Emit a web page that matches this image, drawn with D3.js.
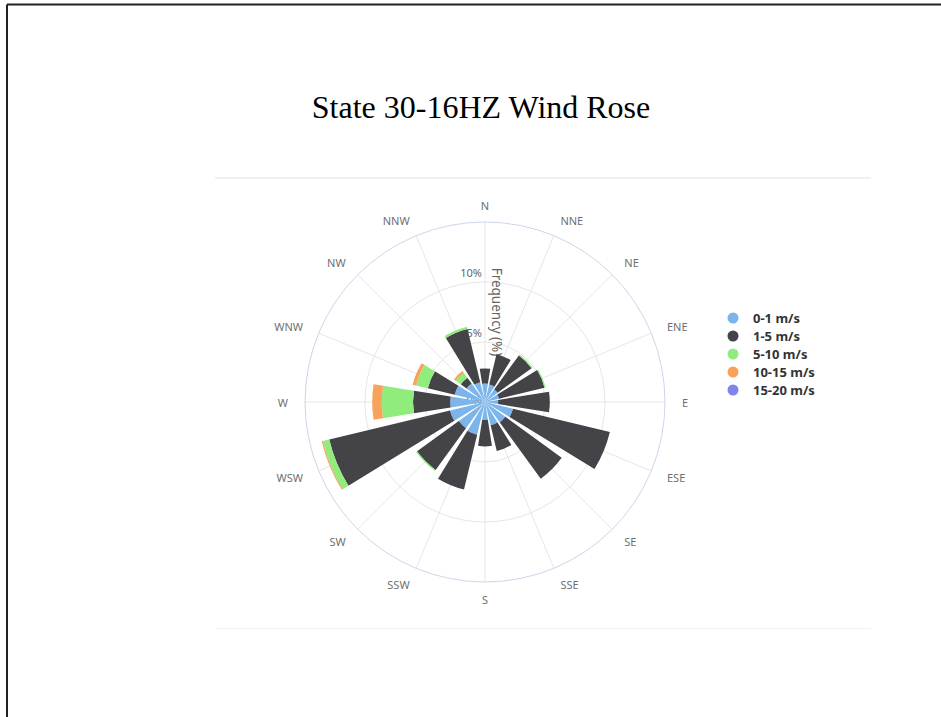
<!DOCTYPE html>
<html>
<head>
<meta charset="utf-8">
<script src="https://cdn.jsdelivr.net/npm/d3@7"></script>
<style>
body { margin:0; background:#fff; }
svg { display:block; }
.dir { font-family:"Noto Sans", sans-serif; font-size:11px; fill:#707070; }
.tick { font-family:"Noto Sans", sans-serif; font-size:11px; fill:#666; }
.legend text { font-family:"Noto Sans", sans-serif; font-size:13px; font-weight:bold; fill:#333; }
</style>
</head>
<body>
<svg id="rose"></svg>
<script>
// directions, clockwise from north
var directions = ["N","NNE","NE","ENE","E","ESE","SE","SSE","S","SSW","SW","WSW","W","WNW","NW","NNW"]
// frequency (%) of each speed band per direction
var speed0to1   = [1.55,1.5,1.3,1.2,1.1,2.4,2.1,2.0,1.5,2.8,2.7,3.0,2.9,2.6,1.9,1.7]
var speed1to5   = [1.25,2.6,3.5,3.9,4.3,8.3,5.8,2.2,2.2,4.7,4.3,10.35,3.1,2.3,0.6,4.55]
var speed5to10  = [0,0,0.1,0.1,0,0,0,0,0,0,0.1,0.55,2.6,1.0,0.5,0.2]
var speed10to15 = [0,0,0,0,0,0,0,0,0,0,0,0.1,0.8,0.3,0.2,0]
var speed15to20 = [0,0,0,0,0,0,0,0,0,0,0,0,0,0,0,0]
var seriesNames = ["0-1 m/s","1-5 m/s","5-10 m/s","10-15 m/s","15-20 m/s"]
var seriesColors = ["#7cb5ec","#434348","#90ed7d","#f7a35c","#8085e9"]
var radialTicks = [0,5,10]

var screen = {width:941, height:717}
var center = {x:485, y:402}
var outerR = 180

var svg = d3.select("#rose")
    .attr("width", screen.width)
    .attr("height", screen.height)

// frame lines
svg.append("line").attr("x1",7).attr("y1",4.5).attr("x2",941).attr("y2",4.5)
    .attr("stroke","#222").attr("stroke-width",2)
svg.append("line").attr("x1",7).attr("y1",4.5).attr("x2",7).attr("y2",717)
    .attr("stroke","#222").attr("stroke-width",2)

// panel borders
svg.append("line").attr("x1",215).attr("y1",178).attr("x2",871).attr("y2",178)
    .attr("stroke","#eef0f2").attr("stroke-width",2)
svg.append("line").attr("x1",215).attr("y1",628.5).attr("x2",871).attr("y2",628.5)
    .attr("stroke","#f2f2f2").attr("stroke-width",1)

svg.append("text")
    .text("State 30-16HZ Wind Rose")
    .attr("x", 481).attr("y", 118)
    .attr("text-anchor","middle")
    .style("font-family","'Liberation Serif', 'Times New Roman', serif")
    .style("font-size","32px")
    .attr("fill","#000")

var rScale = d3.scaleLinear().domain([0,15]).range([0,outerR])
var step = 2*Math.PI/directions.length
var aScale = d3.scaleBand()
    .domain(directions)
    .range([-step/2, 2*Math.PI - step/2])
    .paddingInner(0.2)
    .paddingOuter(0.1)

var g = svg.append("g")
    .attr("transform","translate("+center.x+","+center.y+")")

// grid
directions.forEach(function(d,i){
    var a = aScale(d) + aScale.bandwidth()/2
    g.append("line")
        .attr("x1",0).attr("y1",0)
        .attr("x2",outerR*Math.sin(a)).attr("y2",-outerR*Math.cos(a))
        .attr("stroke","#e6e6e6").attr("stroke-width",1)
})
radialTicks.forEach(function(t){
    if (t==0) return
    g.append("circle").attr("r",rScale(t))
        .attr("fill","none").attr("stroke","#e6e6e6").attr("stroke-width",1)
})
g.append("circle").attr("r",outerR)
    .attr("fill","none").attr("stroke","#ccd6eb").attr("stroke-width",1)

// radial labels
radialTicks.forEach(function(t){
    g.append("text").classed("tick",true)
        .text(t+"%")
        .attr("x",-3).attr("y",-rScale(t)+ (t==0 ? -3 : -10))
        .attr("text-anchor","end")
        .attr("dominant-baseline","central")
})
g.append("text").classed("tick",true)
    .text("Frequency (%)")
    .attr("transform","translate(2,"+(-rScale(7.5))+") rotate(90)")
    .attr("text-anchor","middle")
    .attr("dy","-0.35em")
    .style("font-size","13.5px")

// stacked bars
var rows = directions.map(function(d,i){
    return {dir:d, s0:speed0to1[i], s1:speed1to5[i], s2:speed5to10[i], s3:speed10to15[i], s4:speed15to20[i]}
})
var keys = ["s0","s1","s2","s3","s4"]
var stacked = d3.stack().keys(keys)(rows)

var arc = d3.arc()
    .innerRadius(function(d){return rScale(d[0])})
    .outerRadius(function(d){return rScale(d[1])})
    .startAngle(function(d){return aScale(d.data.dir)})
    .endAngle(function(d){return aScale(d.data.dir)+aScale.bandwidth()})

g.selectAll("g.layer")
    .data(stacked)
    .enter()
    .append("g")
    .classed("layer",true)
    .attr("fill",function(s,i){return seriesColors[i]})
    .selectAll("path")
    .data(function(s){return s.filter(function(d){return d[1]-d[0]>0})})
    .enter()
    .append("path")
    .attr("d",arc)

// direction labels
directions.forEach(function(d){
    var a = aScale(d) + aScale.bandwidth()/2
    var R = 197
    var x = R*Math.sin(a), y = -R*Math.cos(a)
    var s = Math.sin(a)
    g.append("text").classed("dir",true)
        .text(d)
        .attr("x",x).attr("y",y)
        .attr("text-anchor", Math.abs(s)<0.01 ? "middle" : (s>0 ? "start" : "end"))
        .attr("dominant-baseline","central")
})

// legend
var legend = svg.append("g").classed("legend",true)
    .attr("transform","translate(733,318)")
var items = legend.selectAll("g")
    .data(seriesNames)
    .enter()
    .append("g")
    .attr("transform",function(d,i){return "translate(0,"+(i*18)+")"})
items.append("circle").attr("r",5.5)
    .attr("fill",function(d,i){return seriesColors[i]})
items.append("text")
    .text(function(d){return d})
    .attr("x",20).attr("dominant-baseline","central")
</script>
</body>
</html>
